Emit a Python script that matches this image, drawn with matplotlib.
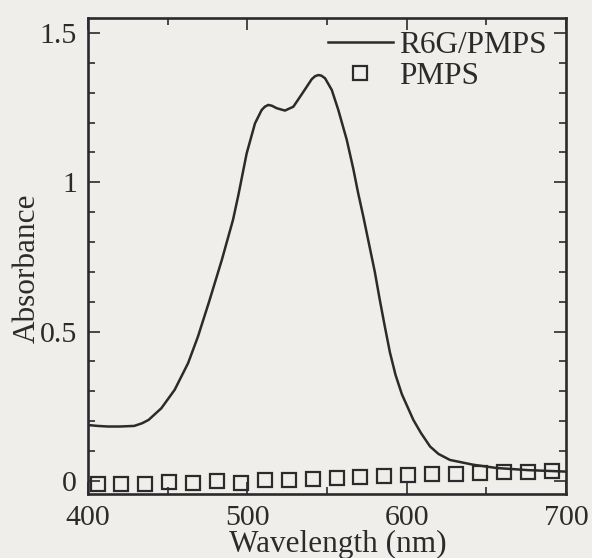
import matplotlib.pyplot as plt
from matplotlib.ticker import MultipleLocator

plt.rcParams['font.family'] = ['Liberation Serif', 'DejaVu Serif']

# R6G/PMPS absorbance spectrum
wl_r6g = [400, 406, 412.5, 420, 429, 434, 438, 446, 454.4, 462.8, 469, 476, 484,
          491, 494.3, 497.5, 499.6, 504.8, 509, 511, 513.2, 515.5, 518.4, 523.6,
          528.9, 535.2, 540.4, 542.5, 544.6, 546.5, 548.8, 553, 557.1, 562.4,
          566.5, 569.5, 572.8, 576.5, 580, 583, 586, 589.5, 593, 597, 604.2, 609,
          614.7, 620, 627.2, 641.8, 656.5, 676, 700]
abs_r6g = [0.187, 0.184, 0.182, 0.182, 0.184, 0.193, 0.204, 0.243, 0.305, 0.394,
           0.483, 0.600, 0.740, 0.874, 0.955, 1.041, 1.097, 1.197, 1.242, 1.253,
           1.259, 1.256, 1.248, 1.240, 1.253, 1.303, 1.345, 1.355, 1.359, 1.357,
           1.348, 1.309, 1.242, 1.142, 1.045, 0.965, 0.885, 0.790, 0.700, 0.610,
           0.525, 0.430, 0.355, 0.290, 0.204, 0.160, 0.115, 0.090, 0.070, 0.054,
           0.043, 0.036, 0.031]

# PMPS film (open squares)
wl_pmps = [406, 421, 436, 451, 466, 481, 496, 511, 526, 541, 556, 571, 586, 601,
           616, 631, 646, 661, 676, 691]
abs_pmps = [-0.012, -0.011, -0.010, -0.005, -0.007, -0.002, -0.006, 0.004, 0.002,
            0.007, 0.008, 0.014, 0.016, 0.019, 0.022, 0.024, 0.025, 0.029, 0.031,
            0.033]

bg = '#efeeeb'
ink = '#2b2b2b'
fs = 22.5

fig = plt.figure(figsize=(5.92, 5.58), dpi=100, facecolor=bg)
ax = fig.add_axes([88 / 592, 64 / 558, 478 / 592, 476 / 558], facecolor=bg)

ax.plot(wl_r6g, abs_r6g, color=ink, lw=1.8, label='R6G/PMPS')
ax.plot(wl_pmps, abs_pmps, ls='none', marker='s', ms=9.8, mfc='none',
        mec=ink, mew=1.6, label='PMPS')

ax.set_xlim(400, 700)
ax.set_ylim(-0.044, 1.55)
ax.xaxis.set_major_locator(MultipleLocator(100))
ax.xaxis.set_minor_locator(MultipleLocator(50))
ax.yaxis.set_minor_locator(MultipleLocator(0.1))
ax.set_yticks([0, 0.5, 1, 1.5], ['0', '0.5', '1', '1.5'])

ax.tick_params(which='both', direction='in', top=True, right=True,
               colors=ink, labelsize=21.5, width=1.2)
ax.tick_params(which='major', length=8.5)
ax.tick_params(which='minor', length=5)
ax.tick_params(axis='x', pad=8)
ax.tick_params(axis='y', pad=8)
for s in ax.spines.values():
    s.set_linewidth(1.9)
    s.set_color(ink)

ax.set_xlabel('Wavelength (nm)', fontsize=fs, color=ink, va='center')
ax.xaxis.set_label_coords(0.523, -0.105)
ax.set_ylabel('Absorbance', fontsize=fs, color=ink, va='center')
ax.yaxis.set_label_coords(-0.128, 0.475)

ax.legend(loc='upper left', bbox_to_anchor=(0.502, 0.973), frameon=False,
          fontsize=fs, handlelength=2.08, handletextpad=0.2, labelspacing=0.08,
          borderpad=0, borderaxespad=0, labelcolor=ink)

fig.savefig('out.png', dpi=100, facecolor=bg)
